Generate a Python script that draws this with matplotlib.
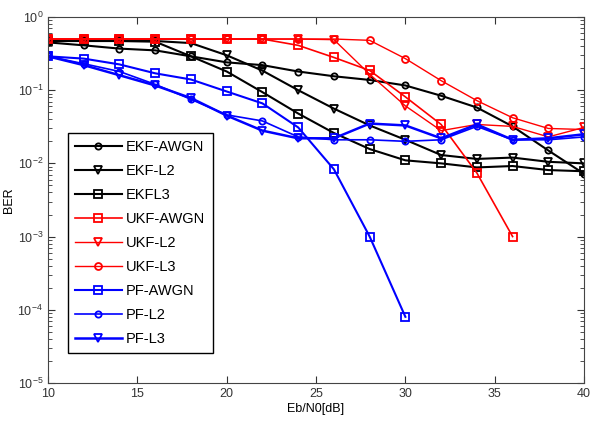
import matplotlib
matplotlib.use("Agg")
import matplotlib.pyplot as plt
import numpy as np

plt.rcParams['font.family'] = ['Liberation Sans', 'DejaVu Sans']

# x axis: Eb/N0 in dB
snr = [10, 12, 14, 16, 18, 20, 22, 24, 26, 28, 30, 32, 34, 36, 38, 40]
snr_pf_awgn = snr[:11]
snr_ukf_awgn = snr[:14]

# BER values
ekf_awgn = [0.45, 0.41, 0.37, 0.35, 0.29, 0.24, 0.22, 0.18, 0.155, 0.138, 0.116, 0.084, 0.058, 0.032, 0.015, 0.0072]
ekf_l2 = [0.47, 0.47, 0.47, 0.47, 0.44, 0.30, 0.185, 0.100, 0.056, 0.033, 0.021, 0.013, 0.0115, 0.012, 0.0105, 0.010]
ekf_l3 = [0.47, 0.47, 0.47, 0.46, 0.29, 0.18, 0.094, 0.048, 0.026, 0.0157, 0.011, 0.010, 0.0088, 0.0092, 0.0081, 0.0078]
ukf_awgn = [0.5, 0.5, 0.5, 0.5, 0.5, 0.5, 0.5, 0.41, 0.28, 0.186, 0.081, 0.034, 0.0074, 0.001]
ukf_l2 = [0.5, 0.5, 0.5, 0.5, 0.5, 0.5, 0.5, 0.5, 0.49, 0.165, 0.061, 0.028, 0.034, 0.032, 0.023, 0.031]
ukf_l3 = [0.5, 0.5, 0.5, 0.5, 0.5, 0.5, 0.5, 0.5, 0.5, 0.48, 0.27, 0.135, 0.072, 0.042, 0.030, 0.029]
pf_awgn = [0.29, 0.27, 0.225, 0.17, 0.14, 0.096, 0.066, 0.031, 0.0083, 0.001, 8e-5]
pf_l2 = [0.29, 0.23, 0.18, 0.12, 0.075, 0.046, 0.038, 0.023, 0.021, 0.021, 0.020, 0.021, 0.032, 0.021, 0.021, 0.023]
pf_l3 = [0.29, 0.22, 0.16, 0.116, 0.078, 0.045, 0.028, 0.022, 0.022, 0.035, 0.033, 0.022, 0.034, 0.021, 0.022, 0.025]

fig = plt.figure(figsize=(6.04, 4.25), dpi=100)
ax = fig.add_axes([0.0795, 0.099, 0.8875, 0.861])

def curve(x, y, color, marker, label, lw=1.5, ms=5.5):
    ax.semilogy(x, y, color=color, marker=marker, label=label, linewidth=lw,
                markersize=ms, markerfacecolor='none', markeredgewidth=1.3)

curve(snr, ekf_awgn, 'black', 'o', 'EKF-AWGN', ms=4.5)
curve(snr, ekf_l2, 'black', 'v', 'EKF-L2', ms=6)
curve(snr, ekf_l3, 'black', 's', 'EKFL3', ms=5.5)
curve(snr_ukf_awgn, ukf_awgn, 'red', 's', 'UKF-AWGN', lw=1.2, ms=5.5)
curve(snr, ukf_l2, 'red', 'v', 'UKF-L2', lw=1.0, ms=6)
curve(snr, ukf_l3, 'red', 'o', 'UKF-L3', lw=1.0, ms=5)
curve(snr_pf_awgn, pf_awgn, 'blue', 's', 'PF-AWGN', ms=5.5)
curve(snr, pf_l2, 'blue', 'o', 'PF-L2', lw=1.2, ms=4.5)
curve(snr, pf_l3, 'blue', 'v', 'PF-L3', lw=1.8, ms=6)

ax.set_xlim(10, 40)
ax.set_ylim(1e-5, 1)
ax.set_xticks([10, 15, 20, 25, 30, 35, 40])
ax.set_yticks([1e-5, 1e-4, 1e-3, 1e-2, 1e-1, 1])
ax.tick_params(which='both', direction='in', top=True, right=True,
               labelsize=9, colors='#333333')
ax.tick_params(which='major', length=5)
ax.tick_params(which='minor', length=3)
for s in ax.spines.values():
    s.set_color('#444444')

ax.set_xlabel('Eb/N0[dB]', fontsize=9, labelpad=2)
ax.set_ylabel('BER', fontsize=9, labelpad=2)

leg = ax.legend(loc='upper left', bbox_to_anchor=(0.037, 0.683), fontsize=10.5,
                fancybox=False, edgecolor='black', framealpha=1,
                handlelength=3.2, labelspacing=0.68, borderpad=0.5,
                handletextpad=0.3, borderaxespad=0)
leg.get_frame().set_linewidth(1.0)

fig.savefig('out.png', dpi=100)
